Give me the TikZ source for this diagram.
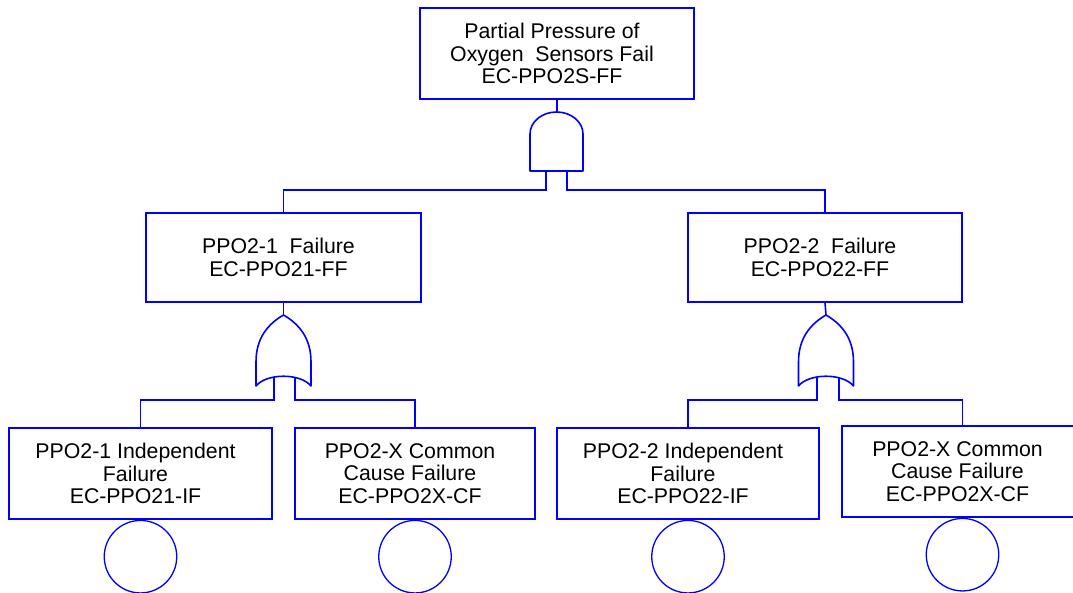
\documentclass[tikz,border=0pt]{standalone}
\usepackage{fontspec}
\setmainfont{Liberation Sans}
\begin{document}
\begin{tikzpicture}[x=1pt,y=-1pt,
  line/.style={draw=blue, line width=1.6pt},
  box/.style={draw=blue, line width=1.6pt, fill=white, inner sep=0pt,
    label={[align=center, font=\fontsize{21.3}{22.5}\selectfont, xshift=-5pt]center:#1}},
  basic/.style={draw=blue, line width=1.3pt, circle, minimum size=72.5pt, inner sep=0pt},
  gate/.style={draw=blue, fill=white, line width=1.6pt, line join=round}]
\useasboundingbox (0,0) rectangle (1073,593);
\clip (0,0) rectangle (1073,593);

% event boxes
\node[box={Partial Pressure of\\Oxygen\ \ Sensors Fail\\EC-PPO2S-FF},
  minimum width=274pt, minimum height=91pt] (top) at (557,53.5) {};
\node[box={PPO2-1\ \ Failure\\EC-PPO21-FF},
  minimum width=275pt, minimum height=89pt] (midL) at (283.5,257.5) {};
\node[box={PPO2-2\ \ Failure\\EC-PPO22-FF},
  minimum width=274pt, minimum height=89pt] (midR) at (825,257.5) {};
\node[box={PPO2-1 Independent\\Failure\\EC-PPO21-IF},
  minimum width=263pt, minimum height=91pt] (b1) at (140.5,473.5) {};
\node[box={PPO2-X Common\\Cause Failure\\EC-PPO2X-CF},
  minimum width=240pt, minimum height=91pt] (b2) at (415,473.5) {};
\node[box={PPO2-2 Independent\\Failure\\EC-PPO22-IF},
  minimum width=262pt, minimum height=91pt] (b3) at (688,473.5) {};
\node[box={PPO2-X Common\\Cause Failure\\EC-PPO2X-CF},
  minimum width=241pt, minimum height=91pt] (b4) at (962.5,471.5) {};

% basic event circles
\node[basic, anchor=north] (c1) at (b1.south) {};
\node[basic, anchor=north] (c2) at (b2.south) {};
\node[basic, anchor=north] (c3) at (b3.south) {};
\node[basic, anchor=north] (c4) at (b4.south) {};

% gate connection points
\coordinate (andtop) at (557,112);
\coordinate (andL) at (546,168);
\coordinate (andR) at (567,168);
\coordinate (orLtop) at (283.5,315);
\coordinate (orL1) at (274,372);
\coordinate (orL2) at (295,372);
\coordinate (orRtop) at (826,315);
\coordinate (orR1) at (817,372);
\coordinate (orR2) at (839,372);

% connectors
\draw[line] (top.south) -- (andtop);
\draw[line] (andL) -- ++(0,22) -| (midL.north);
\draw[line] (andR) -- ++(0,22) -| (midR.north);
\draw[line] (midL.south) -- (orLtop);
\draw[line] (midR.south) -- (orRtop);
\draw[line] (orL1) -- ++(0,28) -| (b1.north);
\draw[line] (orL2) -- ++(0,28) -| (b2.north);
\draw[line] (orR1) -- ++(0,28) -| (b3.north);
\draw[line] (orR2) -- ++(0,28) -| (b4.north);

% AND gate
\draw[gate] (530,171) -- (530,134)
  .. controls (530,121.8) and (541.9,112) .. (556.5,112)
  .. controls (571.1,112) and (583,121.8) .. (583,134)
  -- (583,171) -- cycle;

% OR gates
\foreach \cx in {283.5,826}{
  \draw[gate] (\cx-27.5,386) -- (\cx-27.5,362)
    .. controls (\cx-27.5,338) and (\cx-15.5,324) .. (\cx,315)
    .. controls (\cx+15.5,324) and (\cx+27.5,338) .. (\cx+27.5,362)
    -- (\cx+27.5,386)
    .. controls (\cx+17,373) and (\cx-17,373) .. (\cx-27.5,386) -- cycle;
}
\end{tikzpicture}
\end{document}
